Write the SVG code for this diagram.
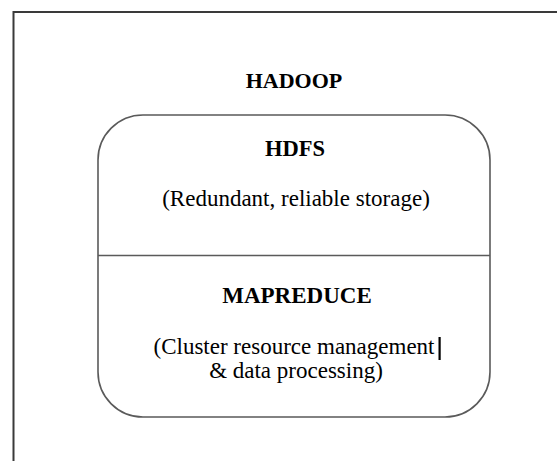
<svg xmlns="http://www.w3.org/2000/svg" width="557" height="461" viewBox="0 0 557 461">
  <style>
    .frame { fill: none; stroke: #3a3a3a; stroke-width: 2; }
    .box { fill: #ffffff; stroke: #5a5a5a; stroke-width: 1.6; }
    .divider { stroke: #5a5a5a; stroke-width: 1.4; }
    .title { font-family: "Liberation Serif", "Times New Roman", serif; font-weight: bold; fill: #000; text-anchor: middle; }
    .body { font-family: "Liberation Serif", "Times New Roman", serif; font-size: 23px; fill: #000; text-anchor: middle; }
  </style>
  <rect width="557" height="461" fill="#ffffff"/>
  <g id="frame">
    <path class="frame" d="M13.5,470 V12 H570"/>
  </g>
  <g id="hadoop-label">
    <text class="title" x="294" y="88" font-size="22">HADOOP</text>
  </g>
  <g id="hadoop-stack">
    <rect class="box" x="98" y="115" width="392" height="302" rx="45" ry="45"/>
    <line class="divider" x1="98" y1="255.5" x2="490" y2="255.5"/>
  </g>
  <g id="hdfs">
    <text class="title" x="295" y="156" font-size="22.5">HDFS</text>
    <text class="body" x="296" y="206">(Redundant, reliable storage)</text>
  </g>
  <g id="mapreduce">
    <text class="title" x="297" y="303" font-size="23">MAPREDUCE</text>
    <text class="body" x="294" y="354">(Cluster resource management</text>
    <text class="body" x="296" y="378">&amp; data processing)</text>
    <rect x="438.5" y="337" width="2.2" height="23" fill="#000"/>
  </g>
  <g id="connectors"/>
</svg>
